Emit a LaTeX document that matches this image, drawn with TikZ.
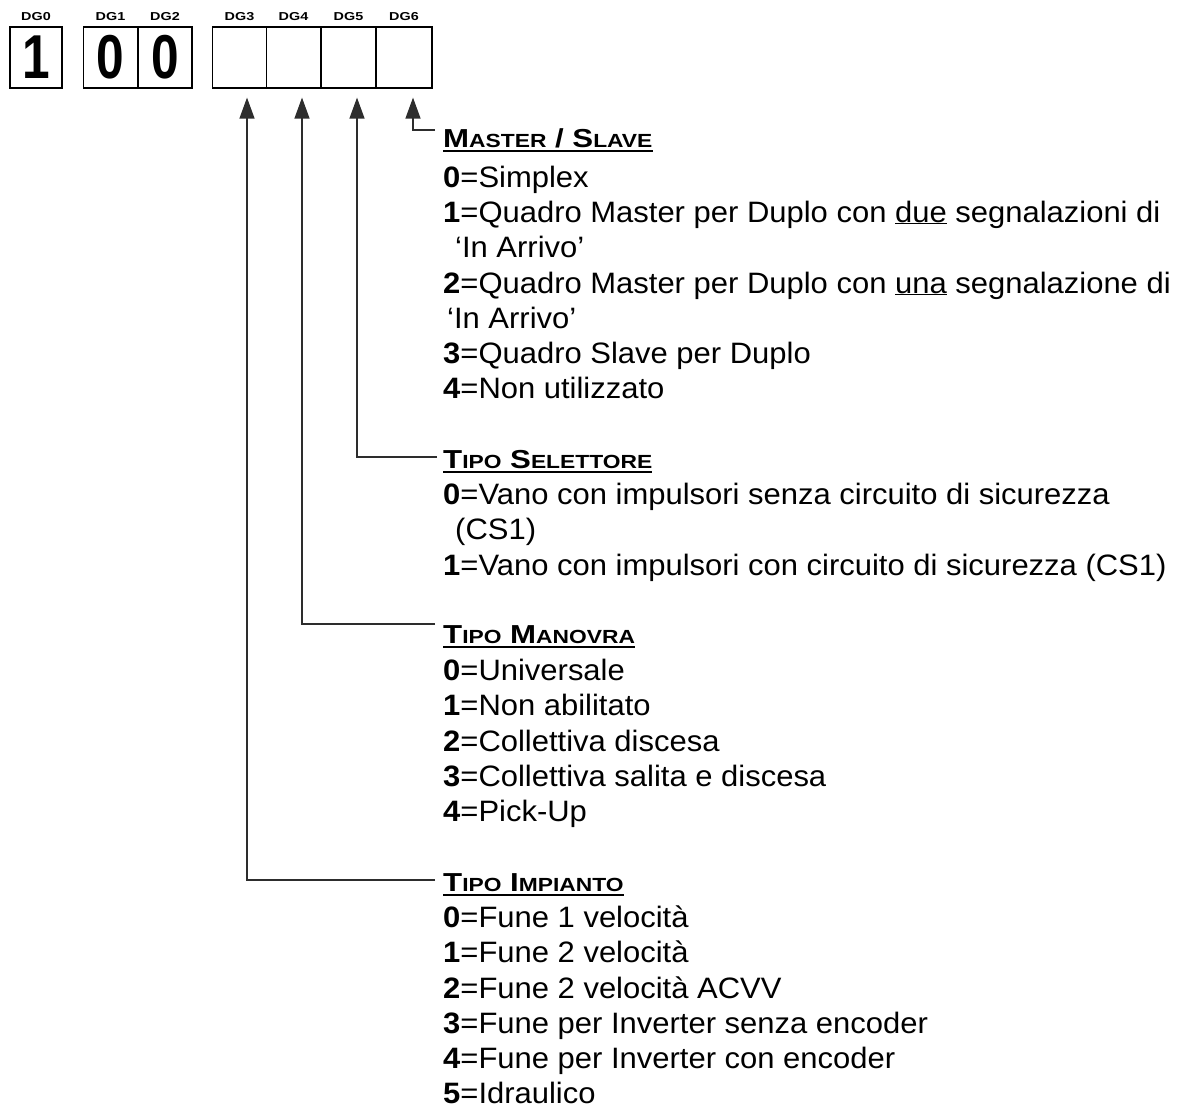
\documentclass[tikz,border=0pt]{standalone}
\usepackage{fontspec}
\setmainfont{Liberation Sans}[FakeStretch=1.05]
\newfontfamily\widefont[FakeStretch=1.2]{Liberation Sans}
\newfontfamily\tagfont[FakeStretch=1.25]{Liberation Sans}
\newfontfamily\digitfont[FakeStretch=0.8]{Liberation Sans}
\usetikzlibrary{arrows.meta, calc}
\definecolor{inkgray}{RGB}{45,45,45}
\newcommand{\sm}[1]{{\fontsize{19}{22}\selectfont #1}}

\begin{document}
\begin{tikzpicture}[x=1pt, y=-1pt, >={Triangle[length=21pt,width=15pt]},
  cell/.style={draw, line width=1.2pt, minimum width=54pt, minimum height=61pt, inner sep=0pt, font=\digitfont\fontsize{62}{64}\selectfont\bfseries},
  tag/.style={font=\tagfont\fontsize{11.5}{13}\selectfont\bfseries},
  item/.style={anchor=base west, inner sep=0pt, font=\fontsize{29.5}{33}\selectfont},
  head/.style={anchor=base west, inner sep=0pt, font=\widefont\fontsize{26}{30}\selectfont\bfseries},
  lead/.style={line width=1.3pt, inkgray, ->, shorten >=9pt},
]
\useasboundingbox (0,0) rectangle (1183,1108);

% === Caselle delle cifre ===
\node[cell, minimum width=52pt] (dg0) at (36,57.5) {1};
\node[cell] (dg1) at (110.5,57.5) {0};
\node[cell] (dg2) at (165,57.5) {0};
\node[cell] (dg3) at (239.5,57.5) {};
\node[cell] (dg4) at (293.5,57.5) {};
\node[cell] (dg5) at (348.5,57.5) {};
\node[cell, minimum width=56pt] (dg6) at (404,57.5) {};

\node[tag] (t0) at (36,17) {DG0};
\node[tag] (t1) at (110.5,17) {DG1};
\node[tag] (t2) at (165,17) {DG2};
\node[tag] (t3) at (239.5,17) {DG3};
\node[tag] (t4) at (293.5,17) {DG4};
\node[tag] (t5) at (348.5,17) {DG5};
\node[tag] (t6) at (404,17) {DG6};

% === Master / Slave ===
\node[head] (msHead) at (443,147) {M\sm{ASTER} / S\sm{LAVE}};
\draw[line width=1.6pt] ([yshift=-4pt]msHead.base west) -- ([yshift=-4pt]msHead.base east);
\node[item] (ms0) at (443,187) {\textbf{0}=Simplex};
\node[item] (ms1) at (443,222) {\textbf{1}=Quadro Master per Duplo con \underline{due} segnalazioni di};
\node[item] (ms1b) at (455,257) {‘In Arrivo’};
\node[item] (ms2) at (443,293) {\textbf{2}=Quadro Master per Duplo con \underline{una} segnalazione di};
\node[item] (ms2b) at (447,328) {‘In Arrivo’};
\node[item] (ms3) at (443,363) {\textbf{3}=Quadro Slave per Duplo};
\node[item] (ms4) at (443,398) {\textbf{4}=Non utilizzato};

% === Tipo selettore ===
\node[head] (tsHead) at (443,468) {T\sm{IPO} S\sm{ELETTORE}};
\draw[line width=1.6pt] ([yshift=-4pt]tsHead.base west) -- ([yshift=-4pt]tsHead.base east);
\node[item] (ts0) at (443,504) {\textbf{0}=Vano con impulsori senza circuito di sicurezza};
\node[item] (ts0b) at (455,539) {(CS1)};
\node[item] (ts1) at (443,575) {\textbf{1}=Vano con impulsori con circuito di sicurezza (CS1)};

% === Tipo manovra ===
\node[head] (tmHead) at (443,643) {T\sm{IPO} M\sm{ANOVRA}};
\draw[line width=1.6pt] ([yshift=-4pt]tmHead.base west) -- ([yshift=-4pt]tmHead.base east);
\node[item] (tm0) at (443,680) {\textbf{0}=Universale};
\node[item] (tm1) at (443,715) {\textbf{1}=Non abilitato};
\node[item] (tm2) at (443,751) {\textbf{2}=Collettiva discesa};
\node[item] (tm3) at (443,786) {\textbf{3}=Collettiva salita e discesa};
\node[item] (tm4) at (443,821) {\textbf{4}=Pick-Up};

% === Tipo impianto ===
\node[head] (tiHead) at (443,891) {T\sm{IPO} I\sm{MPIANTO}};
\draw[line width=1.6pt] ([yshift=-4pt]tiHead.base west) -- ([yshift=-4pt]tiHead.base east);
\node[item] (ti0) at (443,927) {\textbf{0}=Fune 1 velocità};
\node[item] (ti1) at (443,962) {\textbf{1}=Fune 2 velocità};
\node[item] (ti2) at (443,998) {\textbf{2}=Fune 2 velocità ACVV};
\node[item] (ti3) at (443,1033) {\textbf{3}=Fune per Inverter senza encoder};
\node[item] (ti4) at (443,1068) {\textbf{4}=Fune per Inverter con encoder};
\node[item] (ti5) at (443,1103) {\textbf{5}=Idraulico};

% === Richiami ===
\coordinate (msTurn) at (435,130);
\coordinate (tsTurn) at (437,457);
\coordinate (tmTurn) at (435,624);
\coordinate (tiTurn) at (435,880);
\draw[lead] (msTurn) -| ([xshift=9pt]dg6.south);
\draw[lead] (tsTurn) -| ([xshift=8.5pt]dg5.south);
\draw[lead] (tmTurn) -| ([xshift=8.5pt]dg4.south);
\draw[lead] (tiTurn) -| ([xshift=7.5pt]dg3.south);

\end{tikzpicture}
\end{document}
